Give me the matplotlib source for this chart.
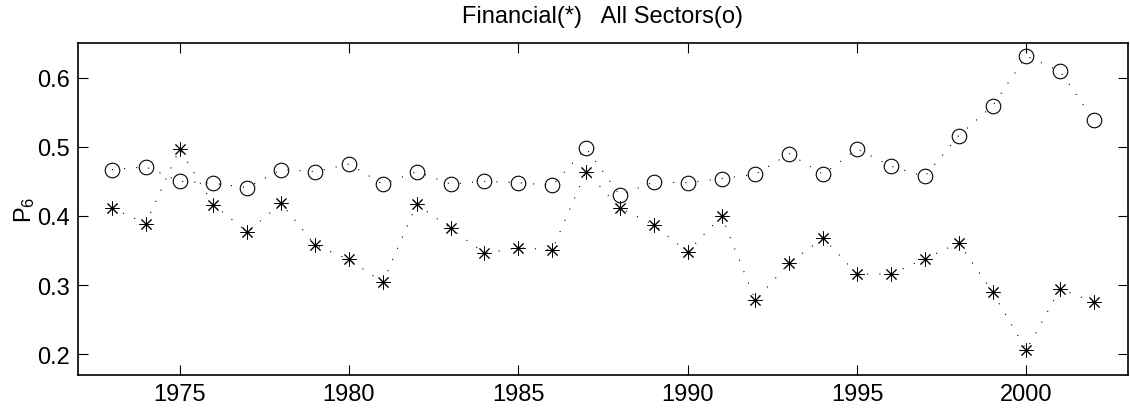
import matplotlib
matplotlib.use("Agg")
import matplotlib.pyplot as plt
import numpy as np

plt.rcParams['font.family'] = ['Liberation Sans', 'DejaVu Sans']
plt.rcParams['mathtext.fontset'] = 'custom'
plt.rcParams['mathtext.rm'] = 'Liberation Sans'
plt.rcParams['mathtext.it'] = 'Liberation Sans'

years = list(range(1973, 2003))
all_sectors = [0.467, 0.471, 0.450, 0.447, 0.441, 0.467, 0.464, 0.475, 0.446,
               0.464, 0.446, 0.450, 0.448, 0.444, 0.498, 0.430, 0.449, 0.448,
               0.454, 0.460, 0.490, 0.460, 0.497, 0.472, 0.457, 0.516, 0.559,
               0.631, 0.609, 0.538]
financial = [0.4115, 0.389, 0.497, 0.416, 0.377, 0.418, 0.358, 0.337, 0.304,
             0.417, 0.382, 0.346, 0.354, 0.351, 0.464, 0.4115, 0.387, 0.348,
             0.400, 0.278, 0.332, 0.368, 0.316, 0.316, 0.338, 0.361, 0.290,
             0.206, 0.295, 0.275]
xticks = [1975, 1980, 1985, 1990, 1995, 2000]
yticks = [0.2, 0.3, 0.4, 0.5, 0.6]

fig = plt.figure(figsize=(11.3, 4.14), dpi=100)
ax = fig.add_axes([78/1130, 1 - 376/414, (1128-78)/1130, (376-44)/414])

ax.plot(years, all_sectors, linestyle=(0, (1, 10)), color='black', linewidth=0.8,
        marker='o', markersize=10.5, fillstyle='none', markeredgewidth=0.8)
ax.plot(years, financial, linestyle=(0, (1, 10)), color='black', linewidth=0.8,
        marker=(8, 2, 0), markersize=10, markeredgewidth=0.7)

ax.set_xlim(1972, 2003)
ax.set_ylim(0.17, 0.65)
ax.set_xticks(xticks)
ax.set_yticks(yticks)
ax.set_yticklabels([f"{v:.1f}" for v in yticks])
ax.tick_params(direction='in', top=True, right=True, length=7, width=0.8,
               labelsize=17, pad=6)
for s in ax.spines.values():
    s.set_linewidth(1.2)
ax.set_title("Financial(*)   All Sectors(o)", fontsize=17, pad=15)
ax.set_ylabel(r"$\mathrm{P}_{6}$", fontsize=17, labelpad=0)

fig.savefig("out.png", dpi=100)
